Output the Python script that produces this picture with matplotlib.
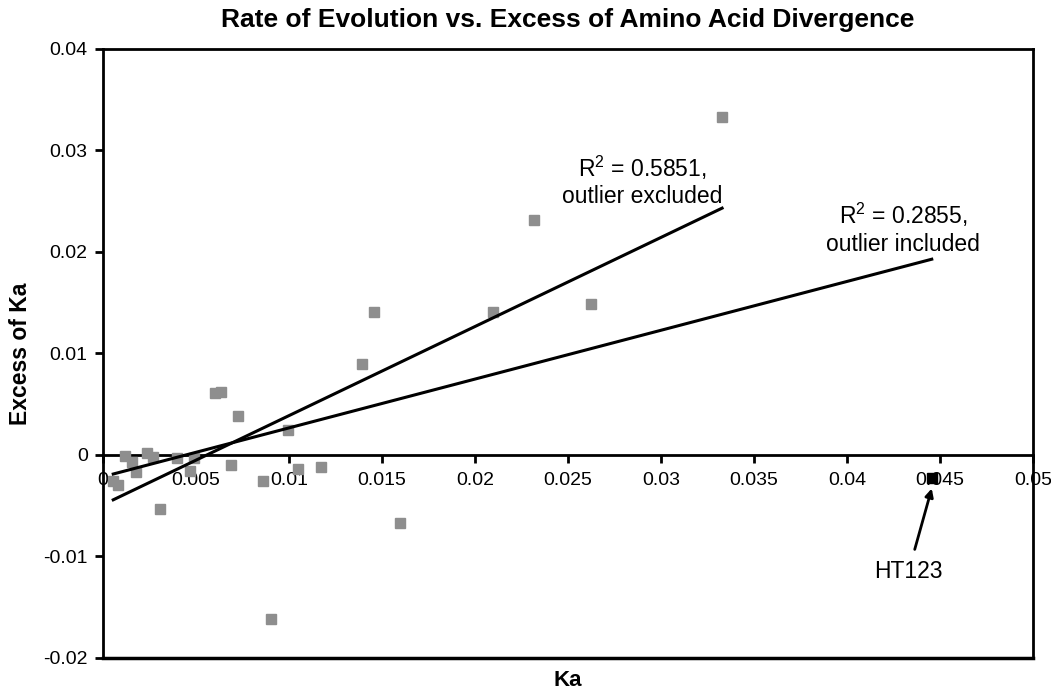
#!/usr/bin/python
# -*- coding: utf-8 -*-
##########################################################################################
# rate of evolution vs. excess of amino acid divergence (Ka scatter with trend lines)
##########################################################################################

import numpy as np
import matplotlib as mpl
from matplotlib import pyplot as plt

##########################################################################################
# data

ka = [0.00055, 0.00082, 0.00118, 0.00158, 0.00175, 0.00235, 0.00270, 0.00306,
      0.00400, 0.00468, 0.00490, 0.00602, 0.00633, 0.00688, 0.00724, 0.00860,
      0.00903, 0.00996, 0.01046, 0.01172, 0.01394, 0.01459, 0.01597, 0.02098,
      0.02319, 0.02624, 0.03328]

excessKa = [-0.0026, -0.0030, -0.0001, -0.00066, -0.0017, 0.00023, -0.00016, -0.0053,
            -0.0003, -0.00155, -0.0003, 0.0061, 0.0062, -0.00096, 0.0038, -0.0026,
            -0.0162, 0.0025, -0.0014, -0.00115, 0.0090, 0.0141, -0.0067, 0.0141,
            0.0232, 0.0149, 0.0333]

# outlier HT123
outlierKa = [0.04455]
outlierExcess = [-0.0023]
outlierName = 'HT123'

# linear trend lines (slope, intercept) as shown in the figure
fitExcluded = (0.878, -0.0049)
fitIncluded = (0.481, -0.00214)
r2Excluded = 0.5851
r2Included = 0.2855

xTicks = [0.0, 0.005, 0.01, 0.015, 0.02, 0.025, 0.03, 0.035, 0.04, 0.045, 0.05]
xTickLabels = ['0', '0.005', '0.01', '0.015', '0.02', '0.025', '0.03', '0.035',
               '0.04', '0.045', '0.05']
yTicks = [-0.02, -0.01, 0.0, 0.01, 0.02, 0.03, 0.04]
yTickLabels = ['-0.02', '-0.01', '0', '0.01', '0.02', '0.03', '0.04']

##########################################################################################

def Plot(outname = 'out.png'):

    mpl.rc('font', **{'family' : 'sans-serif',
                      'sans-serif' : ['Liberation Sans', 'DejaVu Sans']})
    mpl.rc('axes', linewidth = 2.0)
    mpl.rcParams['mathtext.fontset'] = 'custom'
    mpl.rcParams['mathtext.rm'] = 'Liberation Sans'

    f = plt.figure(figsize = (10.51, 6.90), dpi = 100)
    ax1 = f.add_axes([0.098, 0.0464, 0.885, 0.8826])

    ######################################################################################
    # axis ranges and spines
    ax1.set_xlim(0.0, 0.05)
    ax1.set_ylim(-0.02, 0.04)

    # horizontal axis crosses at y = 0, keep the full frame around the plot
    ax1.spines['bottom'].set_position(('data', 0.0))
    ax1.spines['bottom'].set_zorder(1)
    ax1.plot([0.0, 1.0], [0.0, 0.0], transform = ax1.transAxes,
             color = 'k', lw = 2.5, clip_on = False, zorder = 5)

    ax1.set_xticks(xTicks)
    ax1.set_xticklabels(xTickLabels)
    ax1.set_yticks(yTicks)
    ax1.set_yticklabels(yTickLabels)

    ax1.tick_params('both', direction = 'out', length = 6.0, width = 2.0,
                    labelsize = 14.0, pad = 5.0)
    ax1.tick_params(axis = 'x', pad = 6.0)

    ######################################################################################
    # labeling
    ax1.set_title('Rate of Evolution vs. Excess of Amino Acid Divergence',
                  fontsize = 19.0, fontweight = 'bold', pad = 16.0)
    ax1.set_xlabel('Ka', fontsize = 16.0, fontweight = 'bold')
    ax1.xaxis.set_label_coords(0.5, -0.020)
    ax1.set_ylabel('Excess of Ka', fontsize = 16.5, fontweight = 'bold')
    ax1.yaxis.set_label_coords(-0.076, 0.5)

    ######################################################################################
    # trend lines
    kaArr = np.array(ka)
    xEx = np.array([kaArr.min(), kaArr.max()])
    xIn = np.array([kaArr.min(), max(kaArr.max(), max(outlierKa))])

    ax1.plot(xEx, fitExcluded[0] * xEx + fitExcluded[1],
             color = 'k', lw = 2.2, zorder = 3)
    ax1.plot(xIn, fitIncluded[0] * xIn + fitIncluded[1],
             color = 'k', lw = 2.2, zorder = 3)

    ######################################################################################
    # scatter
    ax1.plot(ka, excessKa, linestyle = 'None', marker = 's', markersize = 7.5,
             markerfacecolor = '#8e8e8e', markeredgecolor = '#8e8e8e', zorder = 2)
    ax1.plot(outlierKa, outlierExcess, linestyle = 'None', marker = 's',
             markersize = 7.0, markerfacecolor = 'k', markeredgecolor = 'k', zorder = 4)

    ######################################################################################
    # annotations
    ax1.text(0.0290, 0.0270, r'R$^2$ = %.4f,' % r2Excluded + '\noutlier excluded',
             fontsize = 16.5, ha = 'center', va = 'center', linespacing = 1.2)
    ax1.text(0.0430, 0.0223, r'R$^2$ = %.4f,' % r2Included + '\noutlier included',
             fontsize = 16.5, ha = 'center', va = 'center', linespacing = 1.2)

    ax1.annotate(outlierName,
                 xy = (outlierKa[0], outlierExcess[0] - 0.0010),
                 xytext = (0.0433, -0.0115),
                 textcoords = 'data',
                 fontsize = 16.5, ha = 'center', va = 'center',
                 arrowprops = dict(arrowstyle = '-|>', color = 'k', lw = 2.0,
                                   mutation_scale = 12, shrinkA = 6, shrinkB = 0))

    f.savefig(outname, dpi = 100)
    plt.close()
    return outname

if __name__ == '__main__':

    Plot('out.png')
